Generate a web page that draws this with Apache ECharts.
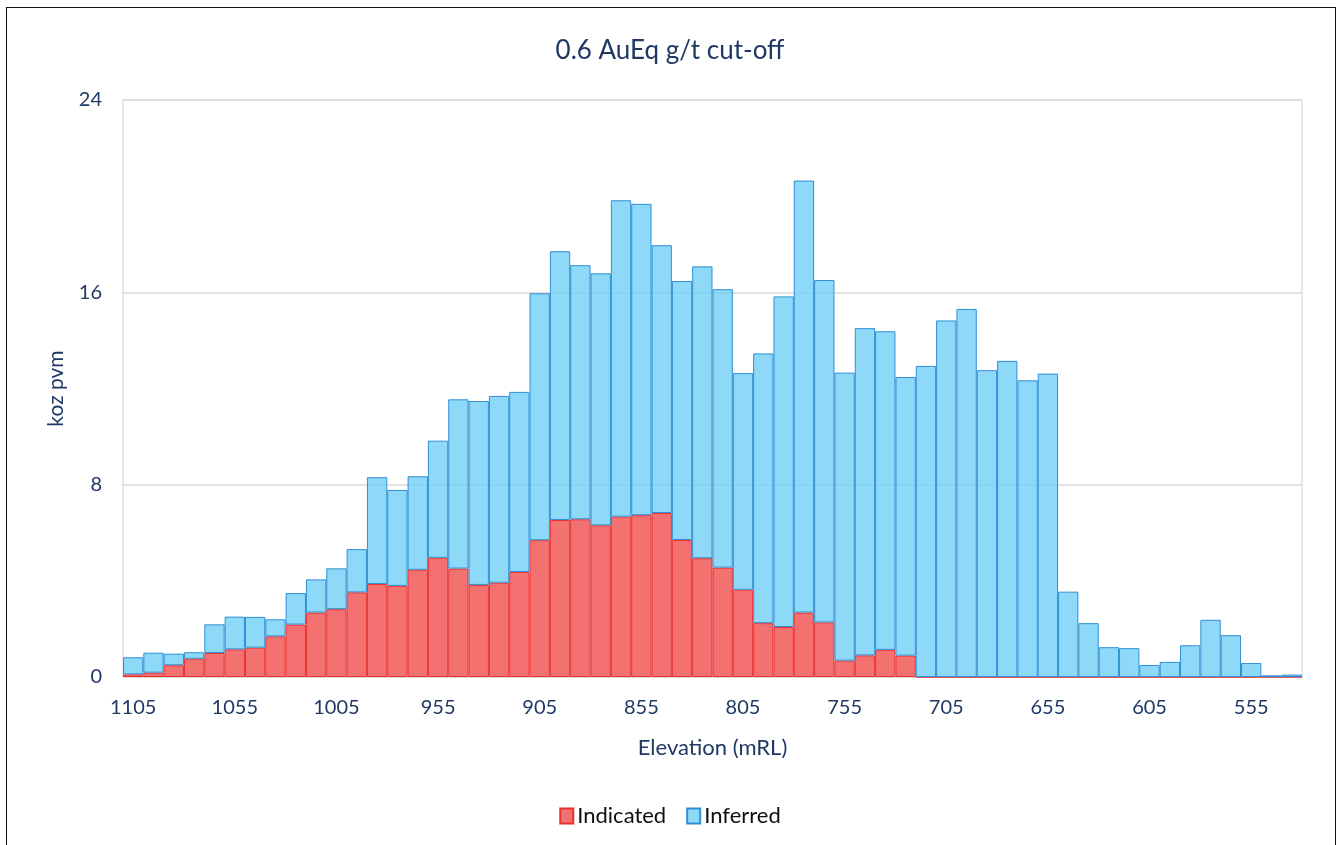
<!DOCTYPE html>
<html>
<head>
<meta charset="utf-8">
<script src="https://cdn.jsdelivr.net/npm/echarts@6/dist/echarts.min.js"></script>
<style>
  html, body { margin:0; padding:0; background:#fff; }
  #frame { position:absolute; left:6px; top:7px; width:1330px; height:860px; border:1.5px solid #111; box-sizing:border-box; }
  #chart { position:absolute; left:0; top:0; width:1340px; height:845px; }
</style>
</head>
<body>
<div id="frame"></div>
<div id="chart"></div>
<script>
const categories = ["1105","1095","1085","1075","1065","1055","1045","1035","1025","1015",
  "1005","995","985","975","965","955","945","935","925","915",
  "905","895","885","875","865","855","845","835","825","815",
  "805","795","785","775","765","755","745","735","725","715",
  "705","695","685","675","665","655","645","635","625","615",
  "605","595","585","575","565","555","545","535"];

const indicated = [0.11,0.18,0.49,0.76,1.00,1.15,1.22,1.69,2.18,2.68,
  2.82,3.52,3.87,3.79,4.46,4.96,4.51,3.83,3.92,4.37,
  5.69,6.53,6.56,6.31,6.67,6.73,6.82,5.70,4.94,4.55,
  3.63,2.24,2.08,2.68,2.27,0.68,0.90,1.13,0.89,0,
  0,0,0,0,0,0,0,0,0,0,
  0,0,0,0,0,0,0,0];

const inferred = [0.71,0.83,0.48,0.27,1.19,1.36,1.28,0.71,1.31,1.38,
  1.70,1.80,4.44,3.99,3.89,4.87,7.04,7.65,7.77,7.49,
  10.27,11.18,10.57,10.48,13.16,12.95,11.14,10.77,12.14,11.58,
  9.01,11.22,13.75,17.97,14.24,11.98,13.61,13.25,11.59,12.94,
  14.83,15.31,12.76,13.15,12.34,12.62,3.55,2.24,1.24,1.20,
  0.50,0.63,1.32,2.38,1.74,0.58,0.07,0.10];

const yTicks = { min: 0, max: 24, interval: 8 };

const navy = '#1f3864';
const fontFam = 'Lato, "Open Sans", sans-serif';

const chart = echarts.init(document.getElementById('chart'));
chart.setOption({
  animation: false,
  title: {
    text: '0.6 AuEq g/t cut-off',
    left: 'center',
    top: 33,
    textStyle: { color: navy, fontSize: 26, fontWeight: 'normal', fontFamily: fontFam }
  },
  legend: {
    bottom: 13,
    left: 'center',
    itemWidth: 13,
    itemHeight: 15,
    itemGap: 20,
    icon: 'rect',
    textStyle: { color: '#0d0d0d', fontSize: 22, fontFamily: fontFam, padding: [0,0,0,-1] },
    data: ['Indicated', 'Inferred']
  },
  grid: {
    left: 123, right: 38, top: 100, bottom: 168,
    show: true, borderColor: '#d9d9d9', borderWidth: 1.2
  },
  xAxis: {
    type: 'category',
    data: categories,
    name: 'Elevation (mRL)',
    nameLocation: 'middle',
    nameGap: 60,
    nameTextStyle: { color: navy, fontSize: 22, fontFamily: fontFam },
    axisLine: { lineStyle: { color: '#d9d9d9', width: 2 } },
    axisTick: { interval: 4, length: 6, lineStyle: { color: '#d9d9d9', width: 1.5 } },
    axisLabel: { interval: 4, color: navy, fontSize: 20, fontFamily: fontFam, margin: 21 }
  },
  yAxis: {
    type: 'value',
    min: yTicks.min, max: yTicks.max, interval: yTicks.interval,
    name: 'koz pvm',
    nameLocation: 'middle',
    nameGap: 56,
    nameTextStyle: { color: navy, fontSize: 21, fontFamily: fontFam },
    axisLine: { show: false },
    axisTick: { show: false },
    axisLabel: { color: navy, fontSize: 20, fontFamily: fontFam, margin: 21 },
    splitLine: { lineStyle: { color: '#d9d9d9', width: 1.5 } }
  },
  series: [
    {
      name: 'Indicated',
      type: 'bar',
      stack: 'total',
      barCategoryGap: '0%',
      data: indicated,
      itemStyle: { color: 'rgba(242,88,88,0.85)', borderColor: '#e8302f', borderWidth: 1 }
    },
    {
      name: 'Inferred',
      type: 'bar',
      stack: 'total',
      barCategoryGap: '0%',
      data: inferred,
      itemStyle: { color: 'rgba(122,209,247,0.85)', borderColor: '#2f8fd5', borderWidth: 1 }
    }
  ]
});
</script>
</body>
</html>
